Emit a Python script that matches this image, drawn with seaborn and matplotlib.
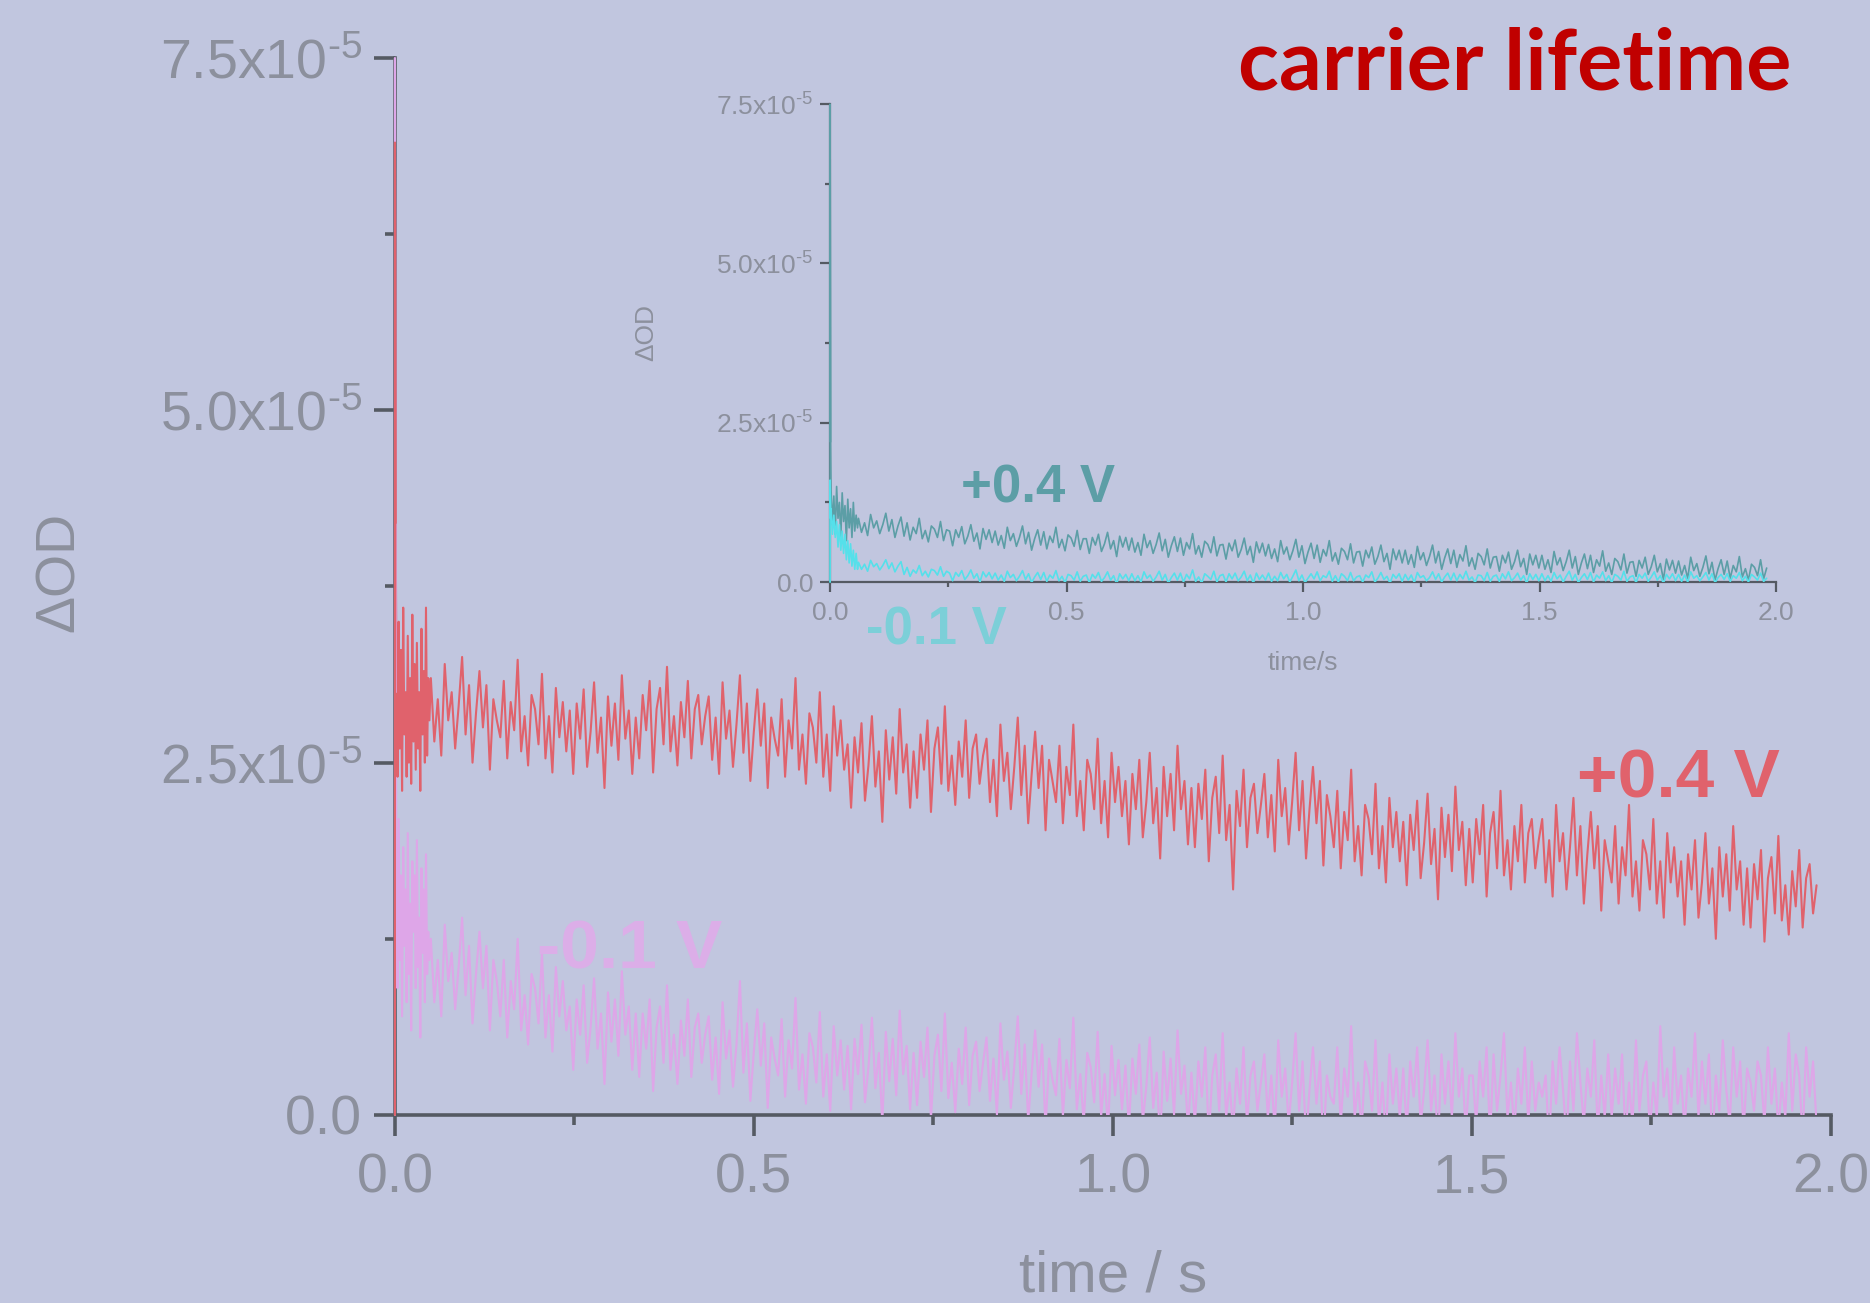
import numpy as np
import matplotlib
matplotlib.use("Agg")
import matplotlib.pyplot as plt
import seaborn as sns
from matplotlib.ticker import MultipleLocator

# ---------------- data (ΔOD in units of 1e-5, time in s) ----------------
# main panel, +0.4 V (red)
red_head_t = [0.0, 0.0, 0.001]
red_head = [0.0, 6.9, 4.2]
red_early = [3.2, 2.4, 3.5, 2.6, 3.3, 2.3, 3.6, 2.7, 3.0, 2.4, 3.4, 2.5, 3.1, 2.35, 3.55,
             2.65, 3.2, 2.45, 3.35, 2.6, 3.0, 2.3, 3.45, 2.7, 3.15, 2.5, 3.6, 2.55, 3.1, 2.8]
red_late = [
    3.10, 2.65, 2.95, 2.55, 3.20, 2.80, 3.00, 2.60, 2.90, 3.25, 2.70, 3.05, 2.50, 2.85, 3.15, 2.75, 3.05, 2.45, 2.95, 2.80,
    2.68, 3.08, 2.53, 2.93, 2.73, 3.23, 2.58, 2.83, 2.48, 2.98, 2.88, 2.63, 3.13, 2.53, 2.83, 2.43, 3.03, 2.68, 2.93, 2.58,
    2.87, 2.42, 2.92, 2.67, 3.02, 2.47, 2.72, 3.07, 2.57, 2.82, 2.32, 2.97, 2.62, 2.92, 2.52, 3.12, 2.67, 2.87, 2.42, 2.82,
    2.53, 2.98, 2.73, 3.08, 2.43, 2.88, 3.03, 2.63, 3.18, 2.58, 2.83, 2.48, 2.93, 2.68, 3.08, 2.53, 2.88, 2.98, 2.63, 2.83,
    2.97, 2.52, 2.82, 2.42, 3.07, 2.67, 2.87, 2.47, 2.77, 3.12, 2.57, 2.92, 2.37, 2.72, 3.02, 2.62, 2.92, 2.32, 2.82, 2.67,
    2.55, 2.95, 2.40, 2.80, 2.60, 3.10, 2.45, 2.70, 2.35, 2.85, 2.75, 2.50, 3.00, 2.40, 2.70, 2.30, 2.90, 2.55, 2.80, 2.45,
    2.63, 2.18, 2.68, 2.43, 2.78, 2.23, 2.48, 2.83, 2.33, 2.58, 2.08, 2.73, 2.38, 2.68, 2.28, 2.88, 2.43, 2.63, 2.18, 2.58,
    2.25, 2.70, 2.45, 2.80, 2.15, 2.60, 2.75, 2.35, 2.90, 2.30, 2.55, 2.20, 2.65, 2.40, 2.80, 2.25, 2.60, 2.70, 2.35, 2.55,
    2.67, 2.22, 2.52, 2.12, 2.77, 2.37, 2.57, 2.17, 2.47, 2.82, 2.27, 2.62, 2.07, 2.42, 2.72, 2.32, 2.62, 2.02, 2.52, 2.37,
    2.22, 2.62, 2.07, 2.47, 2.27, 2.77, 2.12, 2.37, 2.02, 2.52, 2.42, 2.17, 2.67, 2.07, 2.37, 1.97, 2.57, 2.22, 2.47, 2.12,
    2.37, 1.92, 2.42, 2.17, 2.52, 1.97, 2.22, 2.57, 2.07, 2.32, 1.82, 2.47, 2.12, 2.42, 2.02, 2.62, 2.17, 2.37, 1.92, 2.32,
    1.90, 2.35, 2.10, 2.45, 1.80, 2.25, 2.40, 2.00, 2.55, 1.95, 2.20, 1.60, 2.30, 2.05, 2.45, 1.90, 2.25, 2.35, 2.00, 2.20,
    2.42, 1.97, 2.27, 1.87, 2.52, 2.12, 2.32, 1.92, 2.22, 2.57, 2.02, 2.37, 1.82, 2.17, 2.47, 2.07, 2.37, 1.77, 2.27, 2.12,
    1.90, 2.30, 1.75, 2.15, 1.95, 2.45, 1.80, 2.05, 1.70, 2.20, 2.10, 1.85, 2.35, 1.75, 2.05, 1.65, 2.25, 1.90, 2.15, 1.80,
    2.08, 1.63, 2.13, 1.88, 2.23, 1.68, 1.93, 2.28, 1.78, 2.03, 1.53, 2.18, 1.83, 2.13, 1.73, 2.33, 1.88, 2.08, 1.63, 2.03,
    1.65, 2.10, 1.85, 2.20, 1.55, 2.00, 2.15, 1.75, 2.30, 1.70, 1.95, 1.60, 2.05, 1.80, 2.20, 1.65, 2.00, 2.10, 1.75, 1.95,
    2.10, 1.65, 1.95, 1.55, 2.20, 1.80, 2.00, 1.60, 1.90, 2.25, 1.70, 2.05, 1.50, 1.85, 2.15, 1.75, 2.05, 1.45, 1.95, 1.80,
    1.65, 2.05, 1.50, 1.90, 1.70, 2.20, 1.55, 1.80, 1.45, 1.95, 1.85, 1.60, 2.10, 1.50, 1.80, 1.40, 2.00, 1.65, 1.90, 1.55,
    1.80, 1.35, 1.85, 1.60, 1.95, 1.40, 1.65, 2.00, 1.50, 1.75, 1.25, 1.90, 1.55, 1.85, 1.45, 2.05, 1.60, 1.80, 1.35, 1.75,
    1.33, 1.78, 1.53, 1.88, 1.23, 1.68, 1.83, 1.43, 1.98, 1.38, 1.63, 1.28, 1.73, 1.48, 1.88, 1.33, 1.68, 1.78, 1.43, 1.63]

# main panel, -0.1 V (pink)
pink_head_t = [0.0, 0.0, 0.001]
pink_head = [0.0, 7.5, 3.0]
pink_early = [1.8, 0.9, 2.1, 1.1, 1.7, 0.7, 1.9, 1.2, 1.6, 0.8, 2.0, 1.0, 1.5, 0.6, 1.8,
              1.3, 1.7, 0.9, 1.95, 1.05, 1.4, 0.55, 1.75, 1.15, 1.6, 0.8, 1.85, 1.0, 1.3, 1.1]
pink_late = [
    1.25, 0.80, 1.10, 0.70, 1.35, 0.95, 1.15, 0.75, 1.05, 1.40, 0.85, 1.20, 0.65, 1.00, 1.30, 0.90, 1.20, 0.60, 1.10, 0.95,
    0.70, 1.10, 0.55, 0.95, 0.75, 1.25, 0.60, 0.85, 0.50, 1.00, 0.90, 0.65, 1.15, 0.55, 0.85, 0.45, 1.05, 0.70, 0.95, 0.60,
    0.77, 0.32, 0.82, 0.57, 0.92, 0.37, 0.62, 0.97, 0.47, 0.72, 0.22, 0.87, 0.52, 0.82, 0.42, 1.02, 0.57, 0.77, 0.32, 0.72,
    0.27, 0.72, 0.47, 0.82, 0.17, 0.62, 0.77, 0.37, 0.92, 0.32, 0.57, 0.22, 0.67, 0.42, 0.82, 0.27, 0.62, 0.72, 0.37, 0.57,
    0.70, 0.25, 0.55, 0.15, 0.80, 0.40, 0.60, 0.20, 0.50, 0.95, 0.30, 0.65, 0.10, 0.45, 0.75, 0.35, 0.65, 0.05, 0.55, 0.40,
    0.28, 0.68, 0.13, 0.53, 0.33, 0.83, 0.18, 0.43, 0.08, 0.58, 0.48, 0.23, 0.73, 0.13, 0.43, 0.03, 0.63, 0.28, 0.53, 0.18,
    0.49, 0.04, 0.54, 0.29, 0.64, 0.09, 0.34, 0.69, 0.19, 0.44, -0.06, 0.59, 0.24, 0.54, 0.14, 0.74, 0.29, 0.49, 0.04, 0.44,
    0.07, 0.52, 0.27, 0.62, -0.03, 0.42, 0.57, 0.17, 0.72, 0.12, 0.37, 0.02, 0.47, 0.22, 0.62, 0.07, 0.42, 0.52, 0.17, 0.37,
    0.55, 0.10, 0.40, 0.00, 0.65, 0.25, 0.45, 0.05, 0.35, 0.70, 0.15, 0.50, -0.05, 0.30, 0.60, 0.20, 0.50, -0.10, 0.40, 0.25,
    0.14, 0.54, -0.01, 0.39, 0.19, 0.69, 0.04, 0.29, -0.06, 0.44, 0.34, 0.09, 0.59, -0.01, 0.29, -0.11, 0.49, 0.14, 0.39, 0.04,
    0.35, -0.10, 0.40, 0.15, 0.50, -0.05, 0.20, 0.55, 0.05, 0.30, -0.20, 0.45, 0.10, 0.40, 0.00, 0.60, 0.15, 0.35, -0.10, 0.30,
    -0.07, 0.38, 0.13, 0.48, -0.17, 0.28, 0.43, 0.03, 0.58, -0.02, 0.23, -0.12, 0.33, 0.08, 0.48, -0.07, 0.28, 0.38, 0.03, 0.23,
    0.43, -0.02, 0.28, -0.12, 0.53, 0.13, 0.33, -0.07, 0.23, 0.58, 0.03, 0.38, -0.17, 0.18, 0.48, 0.08, 0.38, -0.22, 0.28, 0.13,
    0.08, 0.48, -0.07, 0.33, 0.13, 0.63, -0.02, 0.23, -0.12, 0.38, 0.28, 0.03, 0.53, -0.07, 0.23, -0.17, 0.43, 0.08, 0.33, -0.02,
    0.33, -0.12, 0.38, 0.13, 0.48, -0.07, 0.18, 0.53, 0.03, 0.28, -0.22, 0.43, 0.08, 0.38, -0.02, 0.58, 0.13, 0.33, -0.12, 0.28,
    0.28, -0.07, 0.38, 0.13, 0.48, -0.17, 0.43, 0.03, 0.28, 0.58, -0.02, 0.23, -0.12, 0.33, 0.08, 0.48, -0.07, 0.38, 0.03, 0.23,
    0.13, 0.28, -0.22, 0.38, 0.08, 0.48, 0.18, -0.17, 0.38, 0.03, 0.58, 0.23, -0.07, 0.33, 0.13, 0.53, -0.12, 0.28, -0.02, 0.43,
    -0.02, 0.33, 0.08, 0.43, -0.17, 0.23, -0.07, 0.53, 0.03, 0.28, 0.38, -0.12, 0.23, -0.02, 0.63, 0.13, 0.33, -0.07, 0.48, 0.08,
    0.28, -0.12, 0.33, 0.13, 0.58, -0.02, 0.38, 0.08, 0.43, -0.22, 0.28, 0.03, 0.53, 0.18, -0.07, 0.48, 0.13, 0.38, -0.12, 0.33,
    0.23, 0.03, 0.38, 0.28, -0.07, 0.48, 0.08, 0.33, -0.12, 0.23, -0.02, 0.58, 0.03, 0.43, 0.28, -0.17, 0.48, 0.13, 0.38, -0.07]

# inset, +0.4 V (teal)
teal_head_t = [0.0, 0.0, 0.001]
teal_head = [0.0, 7.5, 2.2]
teal_early = [1.45, 0.9, 1.35, 0.75, 1.5, 1.0, 1.25, 0.7, 1.4, 0.95,
              1.2, 0.65, 1.3, 0.85, 1.15, 0.7, 1.25, 0.8, 1.05, 0.85]
teal_late = [
    1.00, 0.78, 0.93, 0.73, 1.06, 0.85, 0.96, 0.76, 0.90, 1.08, 0.80, 0.98, 0.70, 0.88, 1.02,
    0.72, 0.93, 0.66, 0.86, 0.76, 1.00, 0.68, 0.81, 0.63, 0.88, 0.83, 0.70, 0.95, 0.65, 0.82,
    0.80, 0.57, 0.82, 0.70, 0.87, 0.60, 0.72, 0.90, 0.64, 0.77, 0.52, 0.84, 0.67, 0.82, 0.62,
    0.80, 0.58, 0.73, 0.53, 0.86, 0.65, 0.76, 0.56, 0.70, 0.88, 0.60, 0.78, 0.50, 0.68, 0.82,
    0.58, 0.79, 0.52, 0.72, 0.62, 0.86, 0.54, 0.67, 0.49, 0.74, 0.69, 0.56, 0.81, 0.51, 0.68,
    0.68, 0.45, 0.70, 0.58, 0.75, 0.48, 0.60, 0.78, 0.52, 0.65, 0.40, 0.72, 0.55, 0.70, 0.50,
    0.69, 0.47, 0.62, 0.42, 0.75, 0.54, 0.65, 0.45, 0.59, 0.77, 0.49, 0.67, 0.39, 0.57, 0.71,
    0.48, 0.69, 0.42, 0.62, 0.52, 0.76, 0.44, 0.57, 0.39, 0.64, 0.59, 0.46, 0.71, 0.41, 0.58,
    0.59, 0.36, 0.61, 0.49, 0.66, 0.39, 0.51, 0.69, 0.43, 0.56, 0.31, 0.63, 0.46, 0.61, 0.41,
    0.59, 0.37, 0.52, 0.32, 0.65, 0.44, 0.55, 0.35, 0.49, 0.67, 0.39, 0.57, 0.29, 0.47, 0.61,
    0.37, 0.58, 0.31, 0.51, 0.41, 0.65, 0.33, 0.46, 0.28, 0.53, 0.48, 0.35, 0.60, 0.30, 0.47,
    0.48, 0.25, 0.50, 0.38, 0.55, 0.28, 0.40, 0.58, 0.32, 0.45, 0.20, 0.52, 0.35, 0.50, 0.30,
    0.50, 0.28, 0.43, 0.23, 0.56, 0.35, 0.46, 0.26, 0.40, 0.58, 0.30, 0.48, 0.20, 0.38, 0.52,
    0.29, 0.50, 0.23, 0.43, 0.33, 0.57, 0.25, 0.38, 0.20, 0.45, 0.40, 0.27, 0.52, 0.22, 0.39,
    0.40, 0.17, 0.42, 0.30, 0.47, 0.20, 0.32, 0.50, 0.24, 0.37, 0.12, 0.44, 0.27, 0.42, 0.22,
    0.42, 0.20, 0.35, 0.15, 0.48, 0.27, 0.38, 0.18, 0.32, 0.50, 0.22, 0.40, 0.12, 0.30, 0.44,
    0.21, 0.42, 0.15, 0.35, 0.25, 0.49, 0.17, 0.30, 0.12, 0.37, 0.32, 0.19, 0.44, 0.14, 0.31,
    0.32, 0.09, 0.34, 0.22, 0.39, 0.12, 0.24, 0.42, 0.16, 0.29, 0.04, 0.36, 0.19, 0.34, 0.14,
    0.33, 0.11, 0.26, 0.06, 0.39, 0.18, 0.29, 0.09, 0.23, 0.41, 0.13, 0.31, 0.03, 0.21, 0.35,
    0.12, 0.33, 0.06, 0.26, 0.16, 0.40, 0.08, 0.21, 0.03, 0.28, 0.23, 0.10, 0.35, 0.05, 0.22]

# inset, -0.1 V (cyan)
cyan_head_t = [0.0, 0.0, 0.001]
cyan_head = [0.0, 1.6, 1.0]
cyan_early = [1.15, 0.75, 1.05, 0.7, 0.95, 0.55, 0.9, 0.5, 0.8, 0.45,
              0.75, 0.35, 0.65, 0.3, 0.6, 0.25, 0.5, 0.2, 0.45, 0.2]
cyan_late = [
    0.31, 0.20, 0.28, 0.17, 0.34, 0.24, 0.29, 0.19, 0.26, 0.35, 0.21, 0.30, 0.16, 0.25, 0.32,
    0.12, 0.23, 0.09, 0.19, 0.14, 0.26, 0.10, 0.17, 0.08, 0.20, 0.18, 0.11, 0.24, 0.09, 0.17,
    0.14, 0.02, 0.15, 0.09, 0.18, 0.04, 0.10, 0.19, 0.06, 0.13, 0.00, 0.16, 0.08, 0.15, 0.05,
    0.14, 0.03, 0.11, 0.01, 0.17, 0.07, 0.12, 0.02, 0.09, 0.18, 0.04, 0.13, -0.01, 0.08, 0.15,
    0.04, 0.15, 0.01, 0.11, 0.06, 0.18, 0.02, 0.09, -0.01, 0.12, 0.10, 0.03, 0.16, 0.01, 0.09,
    0.11, -0.01, 0.12, 0.06, 0.15, 0.01, 0.07, 0.16, 0.03, 0.10, -0.03, 0.13, 0.05, 0.12, 0.02,
    0.13, 0.02, 0.10, 0.00, 0.16, 0.06, 0.11, 0.01, 0.08, 0.17, 0.03, 0.12, -0.02, 0.07, 0.14,
    0.03, 0.14, 0.00, 0.12, 0.05, 0.19, 0.01, 0.08, -0.02, 0.13, 0.09, 0.04, 0.17, 0.00, 0.10,
    0.12, 0.00, 0.13, 0.05, 0.14, 0.02, 0.08, 0.17, 0.02, 0.11, -0.02, 0.14, 0.04, 0.11, 0.03,
    0.14, 0.01, 0.09, 0.02, 0.15, 0.05, 0.12, 0.00, 0.09, 0.19, 0.02, 0.11, -0.01, 0.06, 0.13,
    0.05, 0.16, 0.02, 0.10, 0.07, 0.17, 0.01, 0.10, 0.00, 0.13, 0.09, 0.02, 0.15, 0.02, 0.08,
    0.10, 0.00, 0.11, 0.07, 0.16, 0.00, 0.06, 0.15, 0.04, 0.09, -0.02, 0.12, 0.06, 0.13, 0.01,
    0.12, 0.03, 0.11, -0.01, 0.15, 0.07, 0.10, 0.02, 0.07, 0.16, 0.04, 0.13, 0.00, 0.08, 0.14,
    0.03, 0.14, 0.02, 0.12, 0.05, 0.17, 0.03, 0.08, -0.01, 0.11, 0.10, 0.02, 0.15, 0.01, 0.09,
    0.11, 0.01, 0.13, 0.05, 0.16, 0.02, 0.07, 0.14, 0.03, 0.10, -0.02, 0.13, 0.04, 0.12, 0.02,
    0.13, 0.02, 0.10, 0.01, 0.15, 0.05, 0.11, 0.00, 0.09, 0.17, 0.03, 0.12, -0.01, 0.07, 0.13,
    0.04, 0.15, 0.00, 0.11, 0.06, 0.16, 0.02, 0.10, -0.01, 0.12, 0.09, 0.03, 0.17, 0.01, 0.08,
    0.10, -0.01, 0.12, 0.06, 0.14, 0.01, 0.08, 0.16, 0.03, 0.10, -0.02, 0.12, 0.05, 0.13, 0.02,
    0.12, 0.01, 0.11, 0.00, 0.16, 0.06, 0.10, 0.02, 0.08, 0.15, 0.03, 0.13, -0.01, 0.07, 0.12,
    0.04, 0.13, 0.01, 0.10, 0.06, 0.15, 0.02, 0.09, 0.00, 0.12, 0.08, 0.03, 0.14, 0.01, 0.06]

# sampling windows (s)
main_early_window = (0.002, 0.048)
main_late_window = (0.05, 1.98)
inset_early_window = (0.002, 0.058)
inset_late_window = (0.06, 1.98)

# axes ticks and labels
main_yticks = [0.0, 2.5, 5.0, 7.5]
main_yticklabels = ["0.0", "2.5x10$^{\u20105}$", "5.0x10$^{\u20105}$", "7.5x10$^{\u20105}$"]
main_xticks = [0.0, 0.5, 1.0, 1.5, 2.0]
main_xticklabels = ["0.0", "0.5", "1.0", "1.5", "2.0"]
title_text = "carrier lifetime"
main_labels = ["+0.4 V", "-0.1 V"]
inset_labels = ["+0.4 V", "-0.1 V"]

# ---------------- style ----------------
sns.set_theme(style="ticks")
plt.rcParams["font.family"] = ["Liberation Sans", "DejaVu Sans"]
plt.rcParams["mathtext.fontset"] = "custom"
plt.rcParams["mathtext.rm"] = "Liberation Sans"
plt.rcParams["mathtext.it"] = "Liberation Sans"
plt.rcParams["mathtext.default"] = "regular"

BG = "#c1c6df"
GRAY = "#8c909d"
AXC = "#555a63"
RED = "#e0626c"
PINK = "#dea6e8"
TEAL = "#5c9ea6"
CYAN = "#55e0ea"


def series(head_t, head, early, late, w_early, w_late):
    t = list(head_t) + list(np.linspace(w_early[0], w_early[1], len(early))) + \
        list(np.linspace(w_late[0], w_late[1], len(late)))
    v = list(head) + list(early) + list(late)
    return np.array(t), np.array(v)


def draw(axis, head_t, head, early, late, w_early, w_late, color, lw):
    t, v = series(head_t, head, early, late, w_early, w_late)
    sns.lineplot(x=t, y=v, ax=axis, color=color, linewidth=lw, estimator=None, sort=False,
                 zorder=3)
    # the initial spike sits on the y axis: draw it unclipped on top of the spine
    sns.lineplot(x=np.array(head_t), y=np.array(head), ax=axis, color=color, linewidth=lw,
                 estimator=None, sort=False, zorder=4, clip_on=False)


fig = plt.figure(figsize=(18.70, 13.03), dpi=100)
fig.patch.set_facecolor(BG)

ax = fig.add_axes([0.2112, 0.1443, 0.7679, 0.8112])
ax.set_facecolor("none")

draw(ax, pink_head_t, pink_head, pink_early, pink_late, main_early_window, main_late_window, PINK, 1.5)
draw(ax, red_head_t, red_head, red_early, red_late, main_early_window, main_late_window, RED, 1.5)

ax.set_xlim(0, 2.0)
ax.set_ylim(0, 7.5)
for s in ["top", "right"]:
    ax.spines[s].set_visible(False)
for s in ["left", "bottom"]:
    ax.spines[s].set_color(AXC)
    ax.spines[s].set_linewidth(2.6)
ax.set_xticks(main_xticks)
ax.set_xticklabels(main_xticklabels)
ax.set_yticks(main_yticks)
ax.set_yticklabels(main_yticklabels)
ax.xaxis.set_minor_locator(MultipleLocator(0.25))
ax.yaxis.set_minor_locator(MultipleLocator(1.25))
ax.tick_params(axis="both", which="major", length=15, width=2.6, color=AXC,
               labelsize=40, labelcolor=GRAY)
ax.tick_params(axis="x", which="major", pad=12)
ax.tick_params(axis="y", which="major", pad=9)
ax.tick_params(axis="both", which="minor", length=7.5, width=2.6, color=AXC)
ax.set_xlabel("time / s", fontsize=42, color=GRAY)
ax.xaxis.set_label_coords(0.5, -0.127)
ax.set_ylabel("ΔOD", fontsize=40, color=GRAY)
ax.yaxis.set_label_coords(-0.215, 0.514)

ax.text(1.646, 2.38, main_labels[0], color=RED, fontsize=50, fontweight="bold",
        ha="left", va="center")
ax.text(0.198, 1.17, main_labels[1], color="#dcaee8", fontsize=50, fontweight="bold",
        ha="left", va="center")

fig.text(0.9578, 0.950, title_text, color="#c00000", fontsize=61, fontweight="bold",
         family=["Lato", "DejaVu Sans"], ha="right", va="center")

# ---------------- inset ----------------
ins = fig.add_axes([0.4439, 0.5533, 0.5059, 0.3668])
ins.set_facecolor("none")
draw(ins, teal_head_t, teal_head, teal_early, teal_late, inset_early_window, inset_late_window, TEAL, 1.2)
draw(ins, cyan_head_t, cyan_head, cyan_early, cyan_late, inset_early_window, inset_late_window, CYAN, 1.2)
ins.set_xlim(0, 2.0)
ins.set_ylim(0, 7.5)
for s in ["top", "right"]:
    ins.spines[s].set_visible(False)
for s in ["left", "bottom"]:
    ins.spines[s].set_color(AXC)
    ins.spines[s].set_linewidth(1.6)
ins.set_xticks(main_xticks)
ins.set_xticklabels(main_xticklabels)
ins.set_yticks(main_yticks)
ins.set_yticklabels(main_yticklabels)
ins.xaxis.set_minor_locator(MultipleLocator(0.25))
ins.yaxis.set_minor_locator(MultipleLocator(1.25))
ins.tick_params(axis="both", which="major", length=7, width=1.6, color=AXC,
                labelsize=19, labelcolor=GRAY, pad=5)
ins.tick_params(axis="x", which="major", pad=7)
ins.tick_params(axis="both", which="minor", length=3.5, width=1.6, color=AXC)
ins.set_xlabel("time/s", fontsize=19, color=GRAY)
ins.xaxis.set_label_coords(0.5, -0.145)
ins.set_ylabel("ΔOD", fontsize=19, color=GRAY)
ins.yaxis.set_label_coords(-0.182, 0.523)

ins.text(0.277, 1.47, inset_labels[0], color=TEAL, fontsize=38, fontweight="bold",
         ha="left", va="center")
ins.text(0.076, -0.755, inset_labels[1], color="#7ccfd8", fontsize=38, fontweight="bold",
         ha="left", va="center", clip_on=False)

fig.savefig("out.png", dpi=100, facecolor=BG)
